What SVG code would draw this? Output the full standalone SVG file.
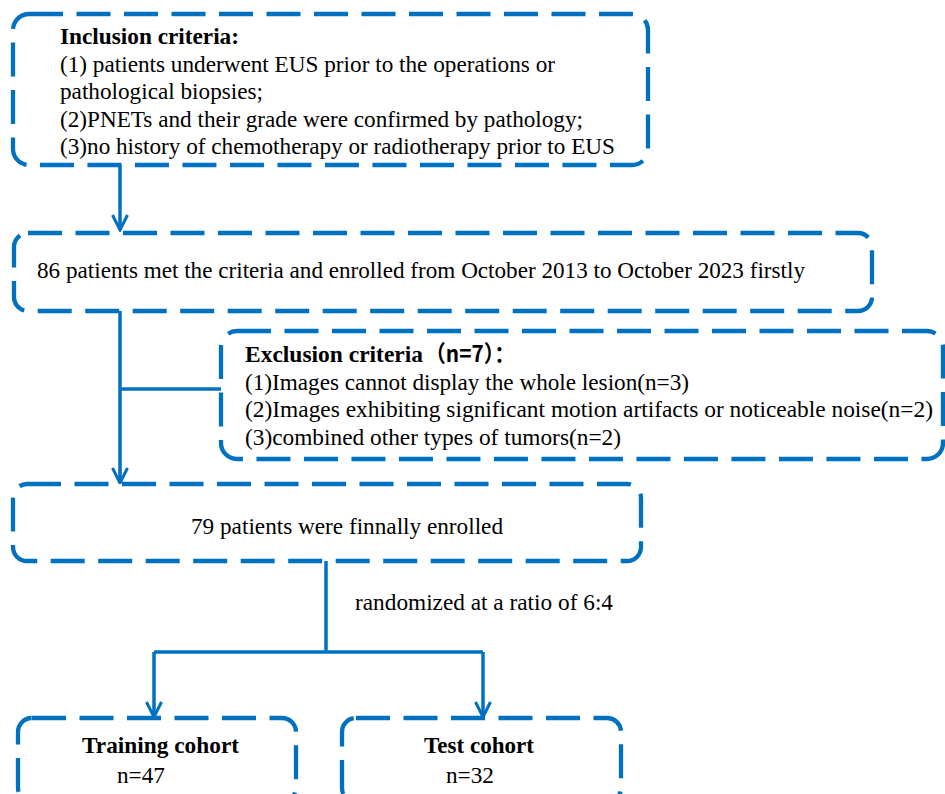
<svg xmlns="http://www.w3.org/2000/svg" width="945" height="794" viewBox="0 0 945 794">
<style>
.box{fill:#fff;stroke:#0070C0;stroke-width:4.3;stroke-dasharray:34 13.5}
.con{fill:none;stroke:#0070C0;stroke-width:3.5}
text{font-family:"Liberation Serif","Times New Roman","DejaVu Serif",serif;font-size:23px;font-weight:normal;fill:#000}
.b{font-weight:bold}
.cjk{font-family:"Noto Sans CJK SC",sans-serif}
</style>
<defs>
<marker id="arr" markerUnits="userSpaceOnUse" markerWidth="20" markerHeight="20" viewBox="-18 -10 20 20" refX="0" refY="0" orient="auto">
<path d="M-15,-7.5 L0,0 L-15,7.5" fill="none" stroke="#0070C0" stroke-width="3"/>
</marker>
</defs>
<rect width="945" height="794" fill="#fff"/>
<g id="connectors">
<path class="con" d="M120,165 V230" marker-end="url(#arr)"/>
<path class="con" d="M120,311 V483" marker-end="url(#arr)"/>
<path class="con" d="M120,389 H221"/>
<path class="con" d="M326,561 V652"/>
<path class="con" d="M154,652 H483"/>
<path class="con" d="M154,652 V717" marker-end="url(#arr)"/>
<path class="con" d="M483,652 V717" marker-end="url(#arr)"/>
</g>
<g id="inclusion">
<rect class="box" x="13" y="14" width="635" height="151" rx="16"/>
<text class="b" x="60" y="44" textLength="179" lengthAdjust="spacingAndGlyphs">Inclusion criteria:</text>
<text x="60" y="71.5" textLength="495" lengthAdjust="spacingAndGlyphs">(1) patients underwent EUS prior to the operations or</text>
<text x="60" y="99" textLength="203" lengthAdjust="spacingAndGlyphs">pathological biopsies;</text>
<text x="60" y="126.5" textLength="523" lengthAdjust="spacingAndGlyphs">(2)PNETs and their grade were confirmed by pathology;</text>
<text x="60" y="154" textLength="555" lengthAdjust="spacingAndGlyphs">(3)no history of chemotherapy or radiotherapy prior to EUS</text>
</g>
<g id="enrolled86">
<rect class="box" x="14" y="233" width="858" height="78" rx="14"/>
<text x="37" y="278" textLength="768" lengthAdjust="spacingAndGlyphs">86 patients met the criteria and enrolled from October 2013 to October 2023 firstly</text>
</g>
<g id="exclusion">
<rect class="box" x="221" y="331" width="722" height="128" rx="16"/>
<text class="b" x="245" y="362" textLength="178" lengthAdjust="spacingAndGlyphs">Exclusion criteria</text>
<text class="b cjk" x="425" y="362" textLength="90" lengthAdjust="spacingAndGlyphs">（n=7）：</text>
<text x="245" y="389.5" textLength="444" lengthAdjust="spacingAndGlyphs">(1)Images cannot display the whole lesion(n=3)</text>
<text x="245" y="417" textLength="688" lengthAdjust="spacingAndGlyphs">(2)Images exhibiting significant motion artifacts or noticeable noise(n=2)</text>
<text x="245" y="444.5" textLength="376" lengthAdjust="spacingAndGlyphs">(3)combined other types of tumors(n=2)</text>
</g>
<g id="enrolled79">
<rect class="box" x="13" y="484" width="628" height="77" rx="14"/>
<text x="191" y="534" textLength="312" lengthAdjust="spacingAndGlyphs">79 patients were finnally enrolled</text>
</g>
<text x="355" y="610" textLength="258" lengthAdjust="spacingAndGlyphs">randomized at a ratio of 6:4</text>
<g id="training">
<rect class="box" x="18" y="718" width="278" height="84" rx="14"/>
<text class="b" x="82" y="753" textLength="157" lengthAdjust="spacingAndGlyphs">Training cohort</text>
<text x="117" y="783" textLength="48" lengthAdjust="spacingAndGlyphs">n=47</text>
</g>
<g id="test">
<rect class="box" x="342" y="718" width="279" height="84" rx="14"/>
<text class="b" x="424" y="753" textLength="110" lengthAdjust="spacingAndGlyphs">Test cohort</text>
<text x="446" y="783" textLength="48" lengthAdjust="spacingAndGlyphs">n=32</text>
</g>
</svg>
